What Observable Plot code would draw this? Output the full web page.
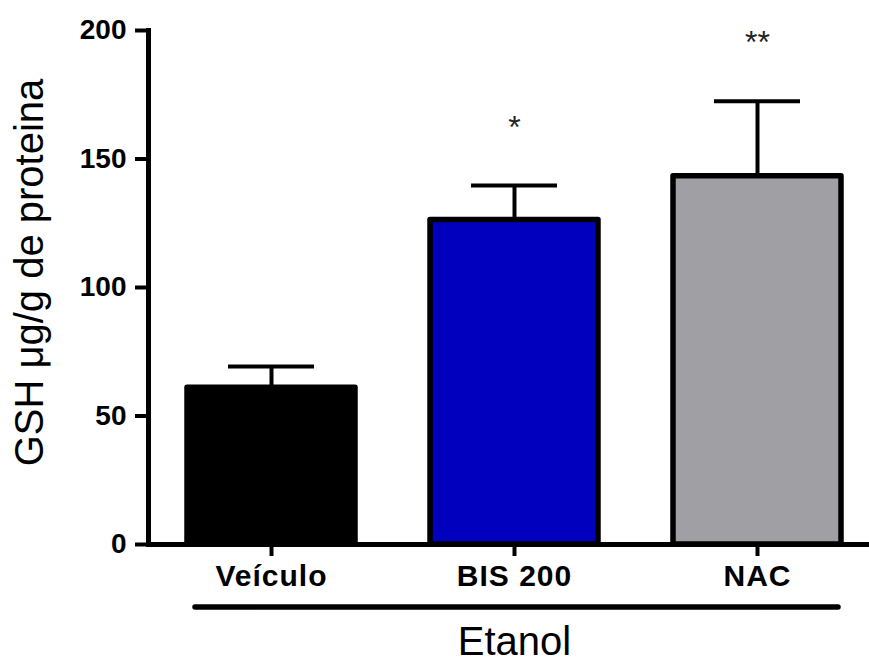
<!DOCTYPE html>
<html><head><meta charset="utf-8">
<script src="https://cdn.jsdelivr.net/npm/d3@7"></script>
<script src="https://cdn.jsdelivr.net/npm/@observablehq/plot@0.6"></script>
<style>
body{margin:0;background:#fff;}
g[aria-label="x-axis tick label"] text {letter-spacing: 1px;}
g[aria-label="ylabel"] text {letter-spacing: 1px;}
</style>
</head><body><div id="chart"></div>
<script>
const categories = ["Veículo", "BIS 200", "NAC"];
const means = [61, 126.3, 143.3];
const sems = [8.3, 13.4, 29.2];
const significance = ["", "*", "**"];
const barColors = ["#000000", "#0000be", "#a0a0a4"];
const yTicks = [0, 50, 100, 150, 200];
const groupLabel = "Etanol";
const yLabel = "GSH μg/g de proteina";

const data = categories.map((c, i) => ({
  category: c, mean: means[i], sem: sems[i], top: means[i] + sems[i],
  sig: significance[i], color: barColors[i]
}));

const font = "'Liberation Sans', Arial, sans-serif";

const groupLine = (index, scales, values, dimensions) => {
  const x = scales.x;
  const bw = x.bandwidth ? x.bandwidth() : 0;
  const x1 = x(categories[0]) + 8;
  const x2 = x(categories[categories.length - 1]) + bw - 3;
  const y = scales.y(0) + 63;
  return d3.create("svg:line")
    .attr("x1", x1).attr("x2", x2).attr("y1", y).attr("y2", y)
    .attr("stroke", "#000").attr("stroke-width", 5.5).attr("stroke-linecap", "round")
    .node();
};

const chart = Plot.plot({
  width: 869, height: 669,
  marginLeft: 148, marginRight: 0, marginTop: 30, marginBottom: 125,
  style: {fontFamily: font, color: "#000", background: "#fff", overflow: "visible"},
  x: {domain: categories, range: [148, 880], paddingInner: 0.31, paddingOuter: 0.16, axis: null},
  y: {domain: [0, 200], axis: null},
  color: {type: "identity"},
  marks: [
    Plot.ruleX(data, {x: "category", y1: "mean", y2: "top", strokeWidth: 4}),
    Plot.tickY(data, {x: "category", y: "top", strokeWidth: 4, insetLeft: 41, insetRight: 41}),
    Plot.barY(data, {x: "category", y: "mean", fill: "color", stroke: "#000", strokeWidth: 5.5, strokeLinejoin: "round"}),
    Plot.axisY({ticks: yTicks, tickSize: 13, tickPadding: 9, strokeWidth: 4, fontSize: 28, fontWeight: "bold", label: null}),
    Plot.axisX({tickSize: 12, tickPadding: 8, strokeWidth: 4, fontSize: 30, fontWeight: "bold", label: null}),
    Plot.frame({anchor: "left", strokeWidth: 5}),
    Plot.ruleY([0], {strokeWidth: 5}),
    Plot.text(data, {x: "category", y: "top", text: "sig", dy: -58, fontSize: 32, fill: "#222"}),
    Plot.text([yLabel], {text: d => d, frameAnchor: "left", textAnchor: "middle", rotate: -90, dx: -118, dy: -15, fontSize: 40, ariaLabel: "ylabel"}),
    Plot.text([groupLabel], {text: d => d, x: [categories[1]], frameAnchor: "bottom", dy: 110, fontSize: 40}),
    groupLine
  ]
});
document.getElementById("chart").appendChild(chart);
</script>
</body></html>
